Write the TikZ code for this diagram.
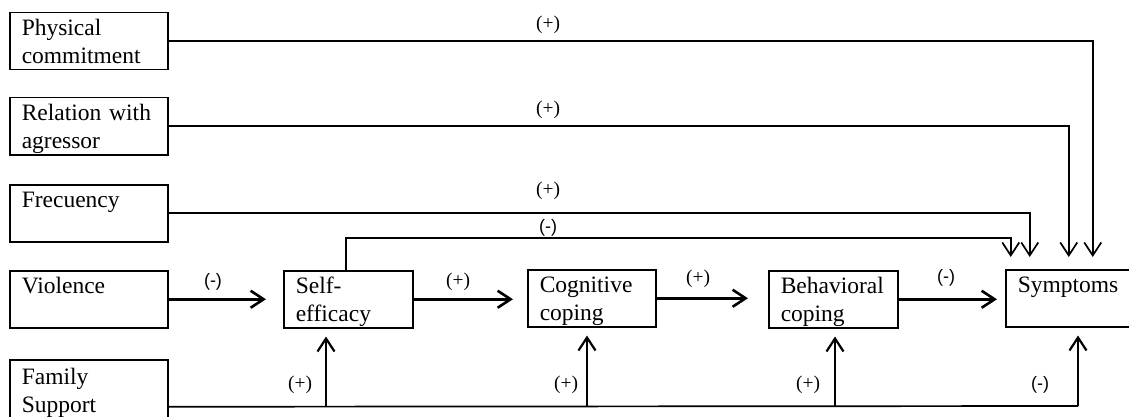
\documentclass[tikz,border=0pt]{standalone}
\usepackage{fontspec}
\setmainfont{Liberation Serif}
\newfontfamily\signsans{Liberation Sans}
\usetikzlibrary{arrows.meta}
\newcommand{\twoline}[2]{\rule{0pt}{22pt}#1\\#2\rule[-6pt]{0pt}{6pt}}
\begin{document}
\begin{tikzpicture}[x=1pt,y=-1pt,
  box/.style={draw,line width=1.5pt,anchor=north west,inner xsep=12pt,inner ysep=0pt,minimum height=57pt,align=left,text width=#1,font=\fontsize{23.5}{28}\selectfont},
  conn/.style={line width=1.7pt},
  tip/.style={-{Straight Barb[length=13pt,width=17pt]}},
  arr/.style={line width=2.6pt,tip},
  varr/.style={line width=2.2pt,tip},
  plus/.style={font=\fontsize{19.5}{22}\selectfont,inner sep=0pt},
  minus/.style={font=\signsans\fontsize{18}{22}\selectfont,inner sep=0pt}
]
\useasboundingbox (0,0) rectangle (1129,417);
\node[box=134pt] (phys) at (9,12) {\twoline{Physical}{commitment}};
\node[box=134pt] (rel) at (9,97) {\twoline{Relation with}{agressor}};
\node[box=134pt] (freq) at (9,184) {\twoline{Frecuency}{}};
\node[box=134pt] (viol) at (9,270) {\twoline{Violence}{}};
\node[box=134pt,minimum height=62pt] (fam) at (9,359) {\twoline{Family}{Support}};
\node[box=105pt] (self) at (283,270) {\twoline{Self-}{efficacy}};
\node[box=104pt] (cog) at (527,269) {\twoline{Cognitive}{coping}};
\node[box=105pt] (beh) at (768,270) {\twoline{Behavioral}{coping}};
\node[box=100pt] (sym) at (1005,269) {\twoline{Symptoms}{}};

% top connectors
\draw[conn,tip] (phys.east) -| ([xshift=25pt,yshift=12pt]sym.north);
\draw[conn,tip] (rel.east) -| ([xshift=1pt,yshift=12pt]sym.north);
\draw[conn,tip] (freq.east) -| ([xshift=-38pt,yshift=12pt]sym.north);
\draw[conn,tip] ([xshift=-2.5pt]self.north) -- ++(0,-32) -| ([xshift=-57pt,yshift=12pt]sym.north);

% main chain
\draw[arr,shorten >=17pt] (viol.east) -- (viol.east -| self.west);
\draw[arr,shorten >=14pt] (self.east) -- (self.east -| cog.west);
\draw[arr,shorten >=20pt] (cog.east) -- (cog.east -| beh.west);
\draw[arr,shorten >=8pt] (beh.east) -- (beh.east -| sym.west);

% family support
\coordinate (fl) at ([yshift=-16pt]fam.east);
\coordinate (f1) at (326,406);
\coordinate (f2) at (587,406);
\coordinate (f3) at (835,406);
\coordinate (f4) at (1078,406);
\draw[conn] (fl) -- (f4);
\draw[varr,shorten >=8pt] (f1) -- (f1 |- self.south);
\draw[varr,shorten >=8pt] (f2) -- (f2 |- cog.south);
\draw[varr,shorten >=8pt] (f3) -- (f3 |- beh.south);
\draw[varr,shorten >=8pt] (f4) -- (f4 |- sym.south);

% signs
\node[plus] (s1) at (548,25) {(+)};
\node[plus] (s2) at (548,110) {(+)};
\node[plus] (s3) at (548,191) {(+)};
\node[minus] (s4) at (548,228) {(-)};
\node[minus] (s5) at (213,282) {(-)};
\node[plus] (s6) at (458,282) {(+)};
\node[plus] (s7) at (698,279) {(+)};
\node[minus] (s8) at (946,278) {(-)};
\node[plus] (s9) at (300,385) {(+)};
\node[plus] (s10) at (566,385) {(+)};
\node[plus] (s11) at (808,385) {(+)};
\node[minus] (s12) at (1040,385) {(-)};
\end{tikzpicture}
\end{document}
